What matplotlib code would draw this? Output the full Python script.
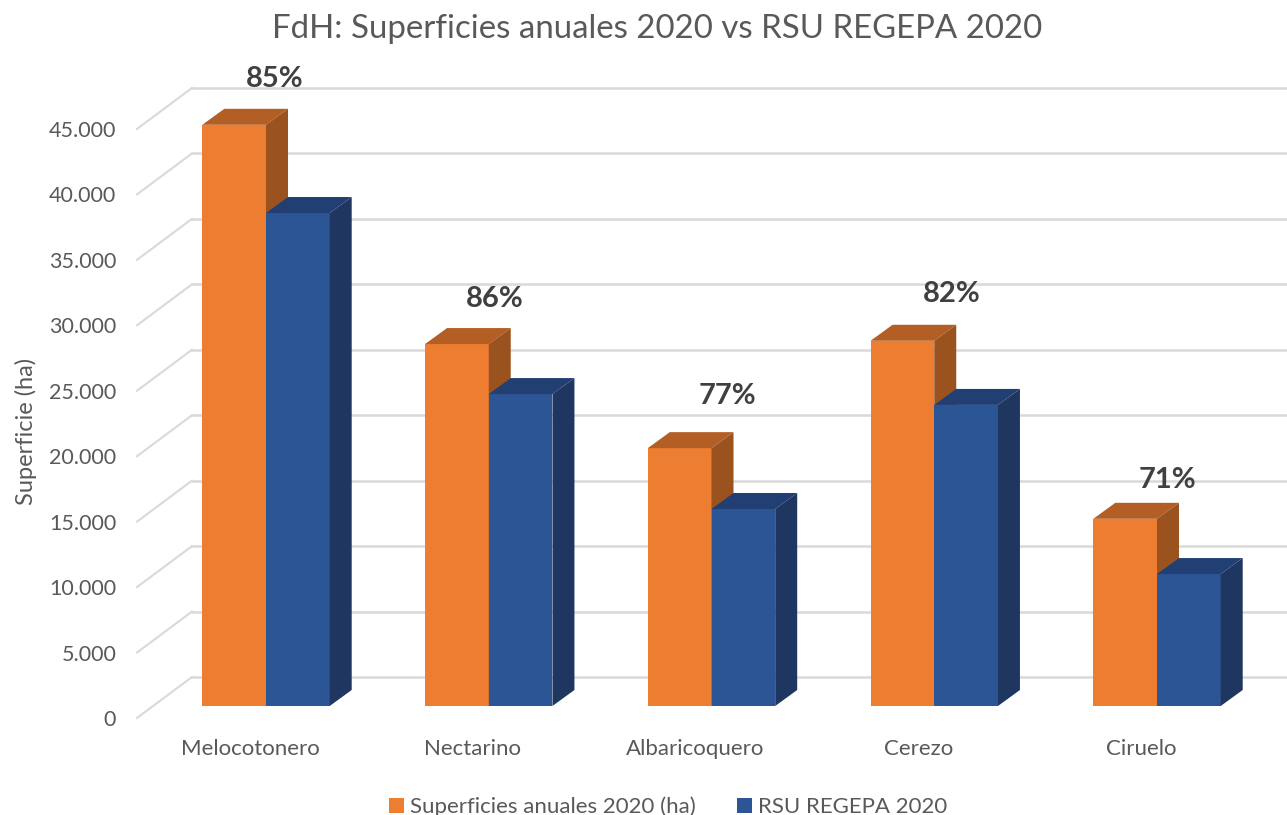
import matplotlib
matplotlib.use('Agg')
import matplotlib.pyplot as plt
from matplotlib.patches import Polygon, Patch

plt.rcParams['font.family'] = ['Lato', 'DejaVu Sans']

# datos
cultivos = ['Melocotonero', 'Nectarino', 'Albaricoquero', 'Cerezo', 'Ciruelo']
superficies = [44400, 27650, 19700, 27900, 14300]
rsu_regepa = [37660, 23830, 15050, 23000, 10080]
porcentajes = ['85%', '86%', '77%', '82%', '71%']
y_ticks = [0, 5000, 10000, 15000, 20000, 25000, 30000, 35000, 40000, 45000]

W, H = 1287, 815
px_x = 222.75   # pixeles por categoria
px_y = 0.01309  # pixeles por hectarea

# marco en pixeles
left, right, bottom, top = 137, 1287, 718, 60
x0 = 266

# geometria falsa 3D
bar_w = 63.7 / px_x
dx = 22 / px_x
dy = 16 / px_y
lift = 12 / px_y
wall_dx = 55 / px_x
wall_dy = 41 / px_y

# posicion de etiquetas, desplazamiento en pixeles desde la arista de la barra
label_off_x = [9, 6, 16, 18, 10]
label_off_y = [46, 45, 52, 47, 39]

naranja = ['#ED7D31', '#B35E25', '#9A521E']
azul = ['#2C5595', '#223F73', '#1F3760']
gris = '#595959'
linea = '#D9D9D9'

fig = plt.figure(figsize=(W / 100, H / 100), dpi=100)
ax = fig.add_axes([left / W, 1 - bottom / H, (right - left) / W, (bottom - top) / H])
xmin = (left - x0) / px_x
xmax = (right - x0) / px_x
ax.set_xlim(xmin, xmax)
ax.set_ylim(0, (bottom - top) / px_y)
for s in ax.spines.values():
    s.set_visible(False)

# rejilla: pared lateral y pared de fondo
for v in y_ticks:
    ax.plot([xmin, xmin + wall_dx], [v, v + wall_dy], color=linea, lw=1.5, zorder=1, clip_on=False)
    ax.plot([xmin + wall_dx, xmax], [v + wall_dy, v + wall_dy], color=linea, lw=1.8, zorder=1, clip_on=False)


def barra(x, valor, colores, z):
    base = lift
    techo = lift + valor
    ax.add_patch(Polygon([(x, base), (x + bar_w, base), (x + bar_w, techo), (x, techo)],
                         fc=colores[0], ec='none', zorder=z))
    ax.add_patch(Polygon([(x, techo), (x + bar_w, techo), (x + bar_w + dx, techo + dy), (x + dx, techo + dy)],
                         fc=colores[1], ec='none', zorder=z))
    ax.add_patch(Polygon([(x + bar_w, base), (x + bar_w + dx, base + dy), (x + bar_w + dx, techo + dy), (x + bar_w, techo)],
                         fc=colores[2], ec='none', zorder=z))


for i in range(len(cultivos)):
    barra(i - bar_w, superficies[i], naranja, 3)
    barra(i, rsu_regepa[i], azul, 4)
    ax.annotate(porcentajes[i], (i - bar_w, lift + superficies[i]),
                xytext=(63.7 + label_off_x[i], label_off_y[i]), textcoords='offset pixels',
                ha='center', va='center', fontsize=21, fontweight='bold', color='#404040', zorder=6)

ax.set_yticks(y_ticks)
ax.set_yticklabels([f'{v:,}'.replace(',', '.') for v in y_ticks])
ax.set_xticks([i - 16 / px_x for i in range(len(cultivos))])
ax.set_xticklabels(cultivos)
ax.tick_params(axis='y', length=0, pad=15, labelsize=15.5, labelcolor=gris)
ax.tick_params(axis='x', length=0, pad=15, labelsize=16, labelcolor=gris)

fig.text(657 / W, 1 - 29 / H, 'FdH: Superficies anuales 2020 vs RSU REGEPA 2020',
         ha='center', va='center', fontsize=23.8, color=gris)
fig.text(26 / W, 1 - 431 / H, 'Superficie (ha)', rotation=90,
         ha='center', va='center', fontsize=17, color=gris)

handles = [Patch(fc=naranja[0], label='Superficies anuales 2020 (ha)'),
           Patch(fc=azul[0], label='RSU REGEPA 2020')]
fig.legend(handles=handles, loc='center', bbox_to_anchor=(668 / W, 1 - 807 / H), ncol=2, frameon=False,
           fontsize=16, labelcolor=gris, handlelength=0.7, handleheight=0.7,
           handletextpad=0.25, columnspacing=1.85, borderpad=0, borderaxespad=0)

fig.savefig('out.png', dpi=100)
